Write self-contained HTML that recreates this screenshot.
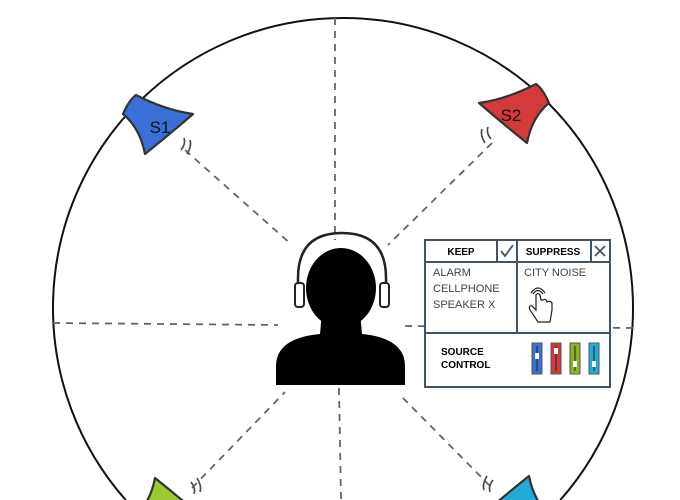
<!DOCTYPE html>
<html><head><meta charset="utf-8"><style>
html,body{margin:0;padding:0;background:#fff;width:680px;height:500px;overflow:hidden}
svg{display:block}
text{font-family:"Liberation Sans",sans-serif}
</style></head><body>
<svg width="680" height="500" viewBox="0 0 680 500" overflow="hidden">
<defs>
<g id="spk">
<path d="M -33 -10 Q -5 -14 24 -29 Q 31 -24 37 -10 Q 20 4 15 30 Q -10 10 -33 -10 Z" stroke="#333" stroke-width="2.2" stroke-linejoin="round"/>
<path d="M -21 26 Q -26 20 -24 14 M -27 30 Q -32 22 -30 16" stroke="#444" stroke-width="1.6" fill="none"/>
</g>
</defs>
<path d="M 125.7 500 A 290 290 0 1 1 560.3 500" fill="none" stroke="#111" stroke-width="2"/>
<g stroke="#5a6876" stroke-width="1.8" stroke-dasharray="7,6" fill="none">
<line x1="335" y1="18" x2="335" y2="240"/>
<line x1="339" y1="388" x2="341" y2="499"/>
<line x1="53" y1="323" x2="278" y2="325"/>
<line x1="405" y1="326" x2="633" y2="328"/>
<line x1="185" y1="150" x2="292" y2="245"/>
<line x1="492" y1="143" x2="388" y2="245"/>
<line x1="192" y1="488" x2="285" y2="392"/>
<line x1="490" y1="486" x2="400" y2="395"/>
</g>
<g>
<use href="#spk" transform="translate(160,124) scale(-1,1)" fill="#3a6fd6"/>
<text x="160" y="133" font-size="17" text-anchor="middle" fill="#111">S1</text>
</g>
<g>
<use href="#spk" transform="translate(512,113)" fill="#d43a3a"/>
<text x="511" y="121" font-size="17" text-anchor="middle" fill="#111">S2</text>
</g>
<svg x="120" y="460" width="100" height="40" viewBox="120 460 100 40" overflow="hidden">
<use href="#spk" transform="translate(170,508) scale(-1,-1)" fill="#9cc832"/>
</svg>
<svg x="460" y="460" width="110" height="40" viewBox="460 460 110 40" overflow="hidden">
<use href="#spk" transform="translate(514,506) scale(1,-1)" fill="#22aad8"/>
</svg>
<g>
<path d="M 298 300 L 298 278 Q 298 233 342 233 Q 386 233 386 278 L 386 300" fill="none" stroke="#222" stroke-width="2.5"/>
<rect x="295" y="283" width="9" height="24" rx="3" fill="#fff" stroke="#222" stroke-width="2"/>
<rect x="380" y="283" width="9" height="24" rx="3" fill="#fff" stroke="#222" stroke-width="2"/>
<ellipse cx="341" cy="288" rx="35" ry="40" fill="#000"/>
<path d="M 322 312 L 360 312 L 362 334 Q 404 338 405 365 L 405 385 L 276 385 L 276 365 Q 277 338 320 334 Z" fill="#000"/>
</g>
<g font-size="11">
<rect x="425" y="240" width="185" height="147" fill="#fff" stroke="#3f5566" stroke-width="2"/>
<line x1="425" y1="262" x2="610" y2="262" stroke="#3f5566" stroke-width="2"/>
<line x1="425" y1="333" x2="610" y2="333" stroke="#3f5566" stroke-width="2"/>
<line x1="517" y1="240" x2="517" y2="333" stroke="#3f5566" stroke-width="2"/>
<line x1="497" y1="240" x2="497" y2="262" stroke="#3f5566" stroke-width="2"/>
<line x1="591" y1="240" x2="591" y2="262" stroke="#3f5566" stroke-width="2"/>
<text x="461" y="255" font-weight="bold" font-size="10" text-anchor="middle">KEEP</text>
<path d="M 501 251 L 505 256 L 513 245" fill="none" stroke="#3f5566" stroke-width="1.8"/>
<text x="553" y="255" font-weight="bold" font-size="10" text-anchor="middle">SUPPRESS</text>
<path d="M 595 246 L 605 256 M 605 246 L 595 256" stroke="#3f5566" stroke-width="1.8"/>
<g fill="#444">
<text x="433" y="276">ALARM</text><text x="433" y="292">CELLPHONE</text><text x="433" y="308">SPEAKER X</text>
</g>
<text x="524" y="276" fill="#444">CITY NOISE</text>
<g fill="#fff" stroke="#222" stroke-width="1.2">
<path d="M 536 295 L 536 310 L 532 306 Q 528 305 530 310 L 538 322 L 550 322 L 552 310 L 552 303 Q 550 300 547 302 Q 546 298 543 300 L 541 300 L 540 295 Q 538 292 536 295 Z"/>
<path d="M 533 294 Q 538 287 543 294 M 531 293 Q 538 283 545 293" fill="none"/>
</g>
<text x="441" y="355" font-weight="bold" font-size="10">SOURCE</text>
<text x="441" y="368" font-weight="bold" font-size="10">CONTROL</text>
<g>
<rect x="532" y="343" width="10" height="31" fill="#3a6fd6" stroke="#555"/><line x1="537" y1="346" x2="537" y2="371" stroke="#222"/><rect x="535" y="353" width="4" height="6" fill="#fff"/>
<rect x="551" y="343" width="10" height="31" fill="#d43a3a" stroke="#555"/><line x1="556" y1="346" x2="556" y2="371" stroke="#222"/><rect x="554" y="348" width="4" height="6" fill="#fff"/>
<rect x="570" y="343" width="10" height="31" fill="#8ab22a" stroke="#555"/><line x1="575" y1="346" x2="575" y2="371" stroke="#222"/><rect x="573" y="361" width="4" height="6" fill="#fff"/>
<rect x="589" y="343" width="10" height="31" fill="#22aad8" stroke="#555"/><line x1="594" y1="346" x2="594" y2="371" stroke="#222"/><rect x="592" y="361" width="4" height="6" fill="#fff"/>
</g>
</g>
</svg>
</body></html>
